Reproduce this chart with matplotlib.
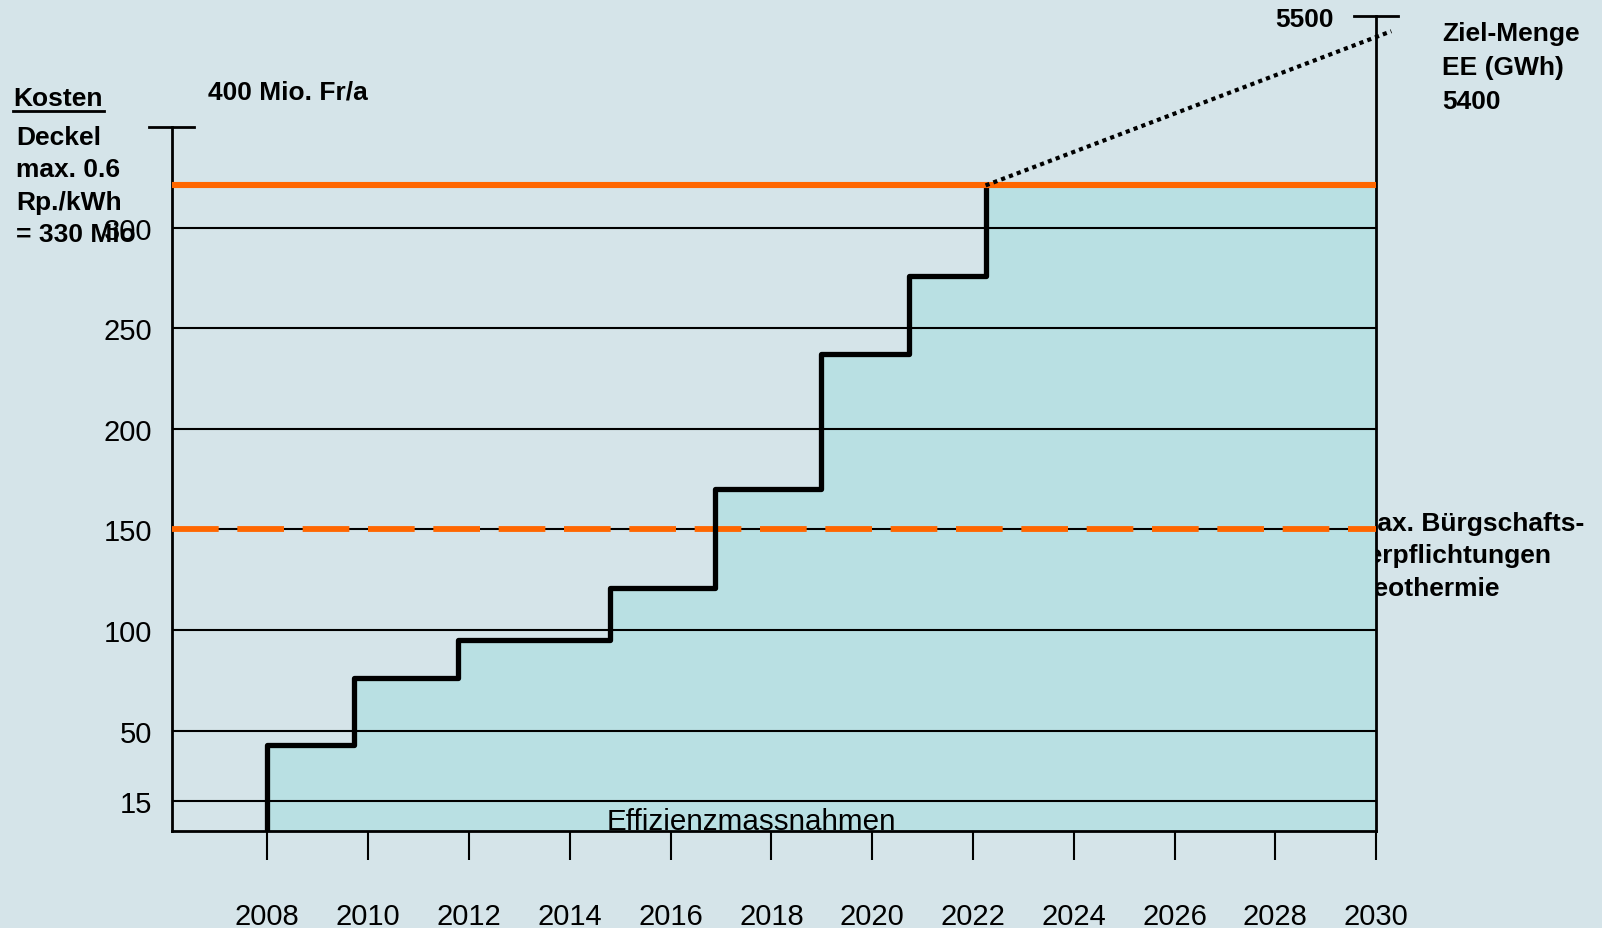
import matplotlib.pyplot as plt

# --- data ---
years_ticks = [2008, 2010, 2012, 2014, 2016, 2018, 2020, 2022, 2024, 2026, 2028, 2030]
cost_ticks = [15, 50, 100, 150, 200, 250, 300]

# year in which each new cost level starts, and the level (Mio. Fr/a)
step_years = [2008, 2009.72, 2011.79, 2014.79, 2016.88, 2018.99, 2020.73, 2022.25]
step_costs = [43, 76, 95, 121, 170, 237, 276, 321]

deckel = 321          # cap line (max. 0.6 Rp./kWh)
buergschaft = 150     # max. Bürgschaftsverpflichtungen Geothermie
cost_axis_top = 350   # top of left axis
gwh_top = 5500        # top of right axis (GWh)
gwh_target = 5400     # Ziel-Menge EE
target_year = 2030.3

x_min, x_max = 2006.1, 2030
y_max = 405           # left-axis units at the 5500 GWh mark

BG = "#D5E4E9"
FILL = "#B9E0E3"
ORANGE = "#FF6600"

W, H = 1602, 929
fig = plt.figure(figsize=(W / 100, H / 100), dpi=100, facecolor=BG)
ax = fig.add_axes([171.6 / W, 1 - 832.3 / H, (1376.2 - 171.6) / W, (832.3 - 17.4) / H])
ax.set_facecolor(BG)
ax.set_xlim(x_min, x_max)
ax.set_ylim(0, y_max)


def px(x, y):
    return x / W, 1 - y / H


# area under the cost steps
ax.fill_between(step_years + [x_max], step_costs + [step_costs[-1]], step="post",
                color=FILL, lw=0, zorder=1)

# grid lines
ax.hlines(cost_ticks, x_min, x_max, color="black", lw=1.5, zorder=2)

# orange limits
ax.hlines(deckel, x_min, x_max, color=ORANGE, lw=4.4, zorder=5)
ax.plot([x_min, x_max], [buergschaft, buergschaft], color=ORANGE, lw=4.2,
        dashes=(8, 3.2), zorder=3, solid_capstyle="butt")

# cost steps
ax.step([step_years[0]] + step_years, [0] + step_costs, where="post",
        color="black", lw=3.8, zorder=4)

# dotted extrapolation to the GWh target on the right scale
ax.plot([step_years[-1], target_year], [step_costs[-1], gwh_target / gwh_top * y_max],
        color="black", lw=3, dashes=(1, 1), zorder=6, clip_on=False)

# spines
ax.spines["top"].set_visible(False)
for s in ["left", "right", "bottom"]:
    ax.spines[s].set_linewidth(2)
ax.spines["left"].set_bounds(0, cost_axis_top)

# end caps of the two vertical axes
ax.plot([x_min - 0.45, x_min + 0.45], [cost_axis_top] * 2, color="black", lw=2, clip_on=False)
ax.plot([x_max - 0.44, x_max + 0.44], [y_max] * 2, color="black", lw=2, clip_on=False)

ax.set_xticks(years_ticks)
ax.set_xticklabels([str(y) for y in years_ticks], family="Liberation Sans", fontsize=21)
ax.tick_params(axis="x", direction="out", length=21, width=1.5, pad=30)
ax.set_yticks(cost_ticks)
ax.set_yticklabels([str(c) for c in cost_ticks], family="Liberation Sans", fontsize=21)
ax.tick_params(axis="y", length=0, pad=14)

ax.text(2017.6, 5, "Effizienzmassnahmen", ha="center", va="center",
        family="Liberation Sans", fontsize=21.3, zorder=7)

bold = dict(family="Liberation Sans", fontweight="bold", fontsize=19, va="center")

fig.text(*px(13, 99), "Kosten", ha="left", **bold)
fig.add_artist(plt.Line2D([13 / W, 104 / W], [1 - 112 / H] * 2, color="black", lw=2))

deckel_lines = ["Deckel", "max. 0.6", "Rp./kWh", "= 330 Mio"]
for i, t in enumerate(deckel_lines):
    fig.text(*px(16, 138 + 32.4 * i), t, ha="left", **bold)

fig.text(*px(208, 93), "400 Mio. Fr/a", ha="left", **bold)
fig.text(*px(1334, 20), "5500", ha="right", **bold)

ziel_lines = ["Ziel-Menge", "EE (GWh)", "5400"]
for i, t in enumerate(ziel_lines):
    fig.text(*px(1442, 34 + 34 * i), t, ha="left", **bold)

# partly hidden behind the plot area, as in the original
bg_lines = ["max. Bürgschafts-", "verpflichtungen", "Geothermie"]
for i, t in enumerate(bg_lines):
    fig.text(*px(1354, 524 + 32.3 * i), t, ha="left", zorder=-1, **bold)

fig.savefig("out.png", dpi=100, facecolor=BG)
